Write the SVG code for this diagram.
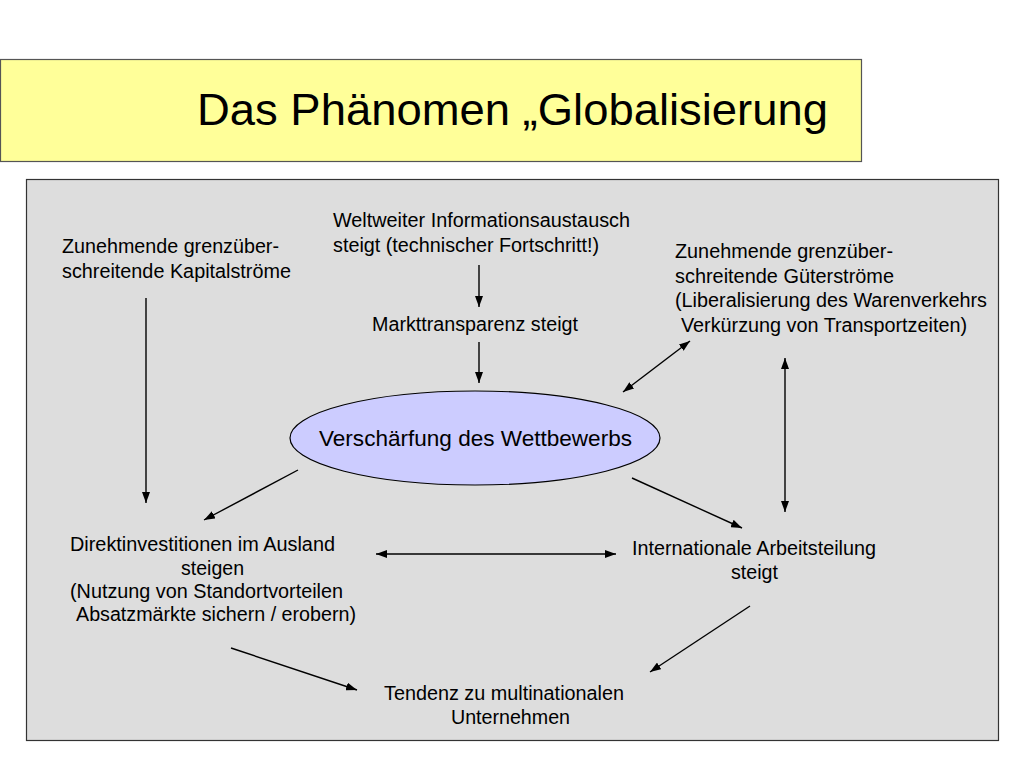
<svg xmlns="http://www.w3.org/2000/svg" width="1024" height="768" viewBox="0 0 1024 768">
<style>
text{font-family:"Liberation Sans",Arial,sans-serif;fill:#000}
.t{font-size:20px}
.ln{stroke:#000;stroke-width:1.4;fill:none}
</style>
<defs>
<marker id="ah" viewBox="0 0 11 8" refX="11" refY="4" markerWidth="11" markerHeight="8" markerUnits="userSpaceOnUse" orient="auto-start-reverse">
<path d="M0,0 L11,4 L0,8 Z" fill="#000"/>
</marker>
</defs>
<rect width="1024" height="768" fill="#fff"/>
<g id="title">
<rect x="0.5" y="59.5" width="861" height="102" fill="#FFFF99" stroke="#555" stroke-width="1.2"/>
<text x="197" y="125" font-size="45" textLength="631" lengthAdjust="spacingAndGlyphs">Das Phänomen „Globalisierung</text>
</g>
<g id="panel">
<rect x="26.5" y="179.5" width="972" height="561" fill="#DDDDDD" stroke="#333" stroke-width="1.2"/>
</g>
<g id="node-info">
<text class="t" x="333" y="227" textLength="297" lengthAdjust="spacingAndGlyphs">Weltweiter Informationsaustausch</text>
<text class="t" x="333" y="252" textLength="266" lengthAdjust="spacingAndGlyphs">steigt (technischer Fortschritt!)</text>
</g>
<g id="node-kapital">
<text class="t" x="62" y="253" textLength="217" lengthAdjust="spacingAndGlyphs">Zunehmende grenzüber-</text>
<text class="t" x="62" y="278" textLength="229" lengthAdjust="spacingAndGlyphs">schreitende Kapitalströme</text>
</g>
<g id="node-transparenz">
<text class="t" x="372" y="331" textLength="206" lengthAdjust="spacingAndGlyphs">Markttransparenz steigt</text>
</g>
<g id="node-gueter">
<text class="t" x="675" y="258" textLength="218" lengthAdjust="spacingAndGlyphs">Zunehmende grenzüber-</text>
<text class="t" x="675" y="283" textLength="219" lengthAdjust="spacingAndGlyphs">schreitende Güterströme</text>
<text class="t" x="675" y="307" textLength="312" lengthAdjust="spacingAndGlyphs">(Liberalisierung des Warenverkehrs</text>
<text class="t" x="681" y="332" textLength="286" lengthAdjust="spacingAndGlyphs">Verkürzung von Transportzeiten)</text>
</g>
<g id="node-wettbewerb">
<ellipse cx="475" cy="438" rx="185" ry="47" fill="#CCCCFF" stroke="#000" stroke-width="1.2"/>
<text x="319" y="446" font-size="22" textLength="313" lengthAdjust="spacingAndGlyphs">Verschärfung des Wettbewerbs</text>
</g>
<g id="node-direkt">
<text class="t" x="70" y="551" textLength="265" lengthAdjust="spacingAndGlyphs">Direktinvestitionen im Ausland</text>
<text class="t" x="181" y="575" textLength="63" lengthAdjust="spacingAndGlyphs">steigen</text>
<text class="t" x="70" y="598" textLength="273" lengthAdjust="spacingAndGlyphs">(Nutzung von Standortvorteilen</text>
<text class="t" x="76" y="621" textLength="280" lengthAdjust="spacingAndGlyphs">Absatzmärkte sichern / erobern)</text>
</g>
<g id="node-arbeitsteilung">
<text class="t" x="632" y="555" textLength="244" lengthAdjust="spacingAndGlyphs">Internationale Arbeitsteilung</text>
<text class="t" x="731" y="579" textLength="47" lengthAdjust="spacingAndGlyphs">steigt</text>
</g>
<g id="node-tendenz">
<text class="t" x="384" y="700" textLength="240" lengthAdjust="spacingAndGlyphs">Tendenz zu multinationalen</text>
<text class="t" x="451" y="724" textLength="119" lengthAdjust="spacingAndGlyphs">Unternehmen</text>
</g>
<g id="connectors">
<line class="ln" x1="146" y1="298" x2="146" y2="503" marker-end="url(#ah)"/>
<line class="ln" x1="479" y1="265" x2="479" y2="307" marker-end="url(#ah)"/>
<line class="ln" x1="479" y1="342" x2="479" y2="383" marker-end="url(#ah)"/>
<line class="ln" x1="690" y1="341" x2="623" y2="392" marker-start="url(#ah)" marker-end="url(#ah)"/>
<line class="ln" x1="785" y1="358" x2="785" y2="512" marker-start="url(#ah)" marker-end="url(#ah)"/>
<line class="ln" x1="298" y1="470" x2="204" y2="520" marker-end="url(#ah)"/>
<line class="ln" x1="632" y1="478" x2="742" y2="528" marker-end="url(#ah)"/>
<line class="ln" x1="376" y1="554" x2="616" y2="554" marker-start="url(#ah)" marker-end="url(#ah)"/>
<line class="ln" x1="750" y1="606" x2="650" y2="672" marker-end="url(#ah)"/>
<line class="ln" x1="231" y1="648" x2="357" y2="690" marker-end="url(#ah)"/>
</g>
</svg>
